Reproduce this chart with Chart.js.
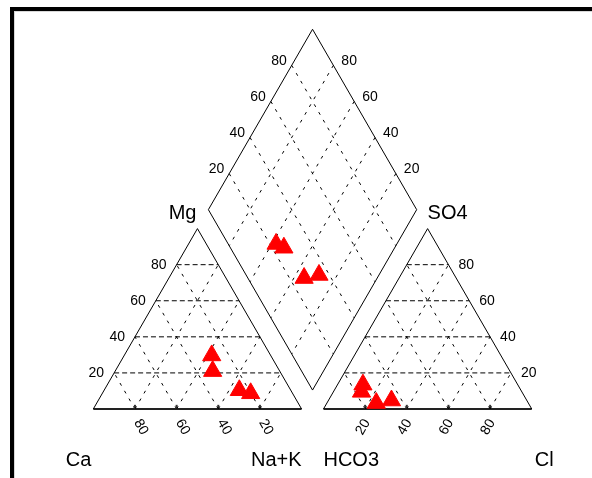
<!DOCTYPE html>
<html>
<head>
<meta charset="utf-8">
<script src="https://cdn.jsdelivr.net/npm/chart.js@4.4.0/dist/chart.umd.min.js"></script>
<style>
html, body { margin: 0; padding: 0; background: #fff; }
#wrap { position: relative; width: 592px; height: 478px; overflow: hidden; }
#frame { position: absolute; left: 10px; top: 7px; width: 700px; height: 600px;
         border-left: 4px solid #000; border-top: 4px solid #000; box-shadow: inset 1px 1px 0 #d8d8d8; }
canvas { position: absolute; left: 0; top: 0; }
</style>
</head>
<body>
<div id="wrap"><div id="frame"></div><canvas id="piper" width="592" height="478"></canvas></div>
<script>
// sample compositions (% meq/l)
const samples = ['S1', 'S2', 'S3', 'S4'];
const ca   = [28.3, 32.2, 24.7, 20.1];
const mg   = [29.7, 21.0, 10.4, 8.7];
const naK  = [42.0, 46.8, 64.9, 71.2];
const hco3 = [77.0, 74.3, 73.0, 65.0];
const so4  = [9.5, 13.5, 3.3, 4.7];
const cl   = [13.5, 12.2, 23.7, 30.3];

const gridLevels = [20, 40, 60, 80];
const tickLabels = ['20', '40', '60', '80'];

// layout of the diagram
const H = Math.sqrt(3) / 2;
const GAP = 10.5;          // gap between triangles, in % units
const PX = 2.083;          // pixels per % unit
const ORIGIN_X = 93.3, BASE_Y = 409;

function cation(c, m, n) {
  const t = c + m + n;
  m = m / t * 100; n = n / t * 100;
  return { x: n + m / 2, y: H * m };
}
function anion(h, s, c) {
  const t = h + s + c;
  s = s / t * 100; c = c / t * 100;
  return { x: 100 + GAP + c + s / 2, y: H * s };
}
function diamond(n, h) {
  const t = 200 + GAP - h - n;
  return { x: n + t / 2, y: H * t };
}

const datasets = [];
// markers first so they sit on top
datasets.push({
  label: 'samples',
  data: samples.map((s, i) => cation(ca[i], mg[i], naK[i]))
    .concat(samples.map((s, i) => anion(hco3[i], so4[i], cl[i])))
    .concat(samples.map((s, i) => diamond(naK[i], hco3[i]))),
  pointStyle: 'triangle',
  pointRadius: 10.5,
  backgroundColor: '#ff0000',
  borderColor: '#ff0000',
  borderWidth: 1
});

function addLine(pts, width, dash, color) {
  datasets.push({
    data: pts, showLine: true, pointRadius: 0, fill: false,
    borderColor: color || '#000', borderWidth: width, borderDash: dash || [],
    tension: 0
  });
}

// grid
gridLevels.forEach(v => {
  addLine([cation(100 - v, v, 0), cation(0, v, 100 - v)], 1, [5, 3]);
  addLine([cation(100 - v, 0, v), cation(0, 100 - v, v)], 1, [3, 6]);
  addLine([cation(v, 0, 100 - v), cation(v, 100 - v, 0)], 1, [3, 6]);
  addLine([anion(100 - v, v, 0), anion(0, v, 100 - v)], 1, [5, 3]);
  addLine([anion(100 - v, 0, v), anion(0, 100 - v, v)], 1, [3, 6]);
  addLine([anion(v, 0, 100 - v), anion(v, 100 - v, 0)], 1, [3, 6]);
  addLine([diamond(v, 0), diamond(v, 100)], 1, [3, 6]);
  addLine([diamond(0, v), diamond(100, v)], 1, [3, 6]);
  // base ticks
  const a = cation(100 - v, 0, v), b = anion(100 - v, 0, v);
  addLine([a, { x: a.x, y: a.y + 2 }], 2, [], '#333');
  addLine([b, { x: b.x, y: b.y + 2 }], 2, [], '#333');
});

// outlines
addLine([cation(100, 0, 0), cation(0, 100, 0), cation(0, 0, 100)], 1);
addLine([cation(100, 0, 0), cation(0, 0, 100)], 2, [], '#222');
addLine([anion(100, 0, 0), anion(0, 100, 0), anion(0, 0, 100)], 1);
addLine([anion(100, 0, 0), anion(0, 0, 100)], 2, [], '#222');
addLine([diamond(100, 100), diamond(100, 0), diamond(0, 0), diamond(0, 100), diamond(100, 100)], 1);

const labelPlugin = {
  id: 'piperLabels',
  afterDatasetsDraw(chart) {
    const { ctx, scales: { x, y } } = chart;
    const P = p => [x.getPixelForValue(p.x), y.getPixelForValue(p.y)];
    ctx.save();
    ctx.fillStyle = '#000';
    ctx.font = '14px "Liberation Sans", Arial, sans-serif';
    ctx.textBaseline = 'middle';

    gridLevels.forEach((v, i) => {
      let p;
      // Mg on left side of cation triangle
      p = P(cation(100 - v, v, 0));
      ctx.textAlign = 'right';
      ctx.fillText(tickLabels[i], p[0] - 10, p[1]);
      // SO4 on right side of anion triangle
      p = P(anion(0, v, 100 - v));
      ctx.textAlign = 'left';
      ctx.fillText(tickLabels[i], p[0] + 10, p[1]);
      // diamond, upper left edge (SO4+Cl)
      p = P(diamond(0, 100 - v));
      ctx.textAlign = 'right';
      ctx.fillText(tickLabels[i], p[0] - 5, p[1] - 4);
      // diamond, upper right edge (Ca+Mg)
      p = P(diamond(100 - v, 0));
      ctx.textAlign = 'left';
      ctx.fillText(tickLabels[i], p[0] + 8, p[1] - 4);

      // rotated base labels
      ctx.textAlign = 'center';
      p = P(cation(v, 0, 100 - v));
      ctx.save();
      ctx.translate(p[0] + 6, p[1] + 18);
      ctx.rotate(Math.PI / 3);
      ctx.fillText(tickLabels[i], 0, 0);
      ctx.restore();
      p = P(anion(100 - v, 0, v));
      ctx.save();
      ctx.translate(p[0] - 2, p[1] + 18);
      ctx.rotate(-Math.PI / 3);
      ctx.fillText(tickLabels[i], 0, 0);
      ctx.restore();
    });

    // axis names
    ctx.font = '20px "Liberation Sans", Arial, sans-serif';
    ctx.textBaseline = 'alphabetic';
    let p = P(cation(0, 100, 0));
    ctx.textAlign = 'right';
    ctx.fillText('Mg', p[0] - 1, p[1] - 10);
    p = P(anion(0, 100, 0));
    ctx.textAlign = 'left';
    ctx.fillText('SO4', p[0], p[1] - 10);
    p = P(cation(100, 0, 0));
    ctx.textAlign = 'right';
    ctx.fillText('Ca', p[0] - 2, p[1] + 57);
    p = P(cation(0, 0, 100));
    ctx.fillText('Na+K', p[0], p[1] + 57);
    p = P(anion(100, 0, 0));
    ctx.textAlign = 'left';
    ctx.fillText('HCO3', p[0], p[1] + 57);
    p = P(anion(0, 0, 100));
    ctx.fillText('Cl', p[0] + 3, p[1] + 57);
    ctx.restore();
  }
};

const ctx = document.getElementById('piper').getContext('2d');
new Chart(ctx, {
  type: 'scatter',
  data: { datasets: datasets },
  options: {
    responsive: false,
    animation: false,
    events: [],
    layout: { padding: 0, autoPadding: false },
    plugins: { legend: { display: false }, tooltip: { enabled: false } },
    scales: {
      x: { type: 'linear', display: false, min: -ORIGIN_X / PX, max: (592 - ORIGIN_X) / PX },
      y: { type: 'linear', display: false, min: -(478 - BASE_Y) / PX, max: BASE_Y / PX }
    }
  },
  plugins: [labelPlugin]
});
</script>
</body>
</html>
